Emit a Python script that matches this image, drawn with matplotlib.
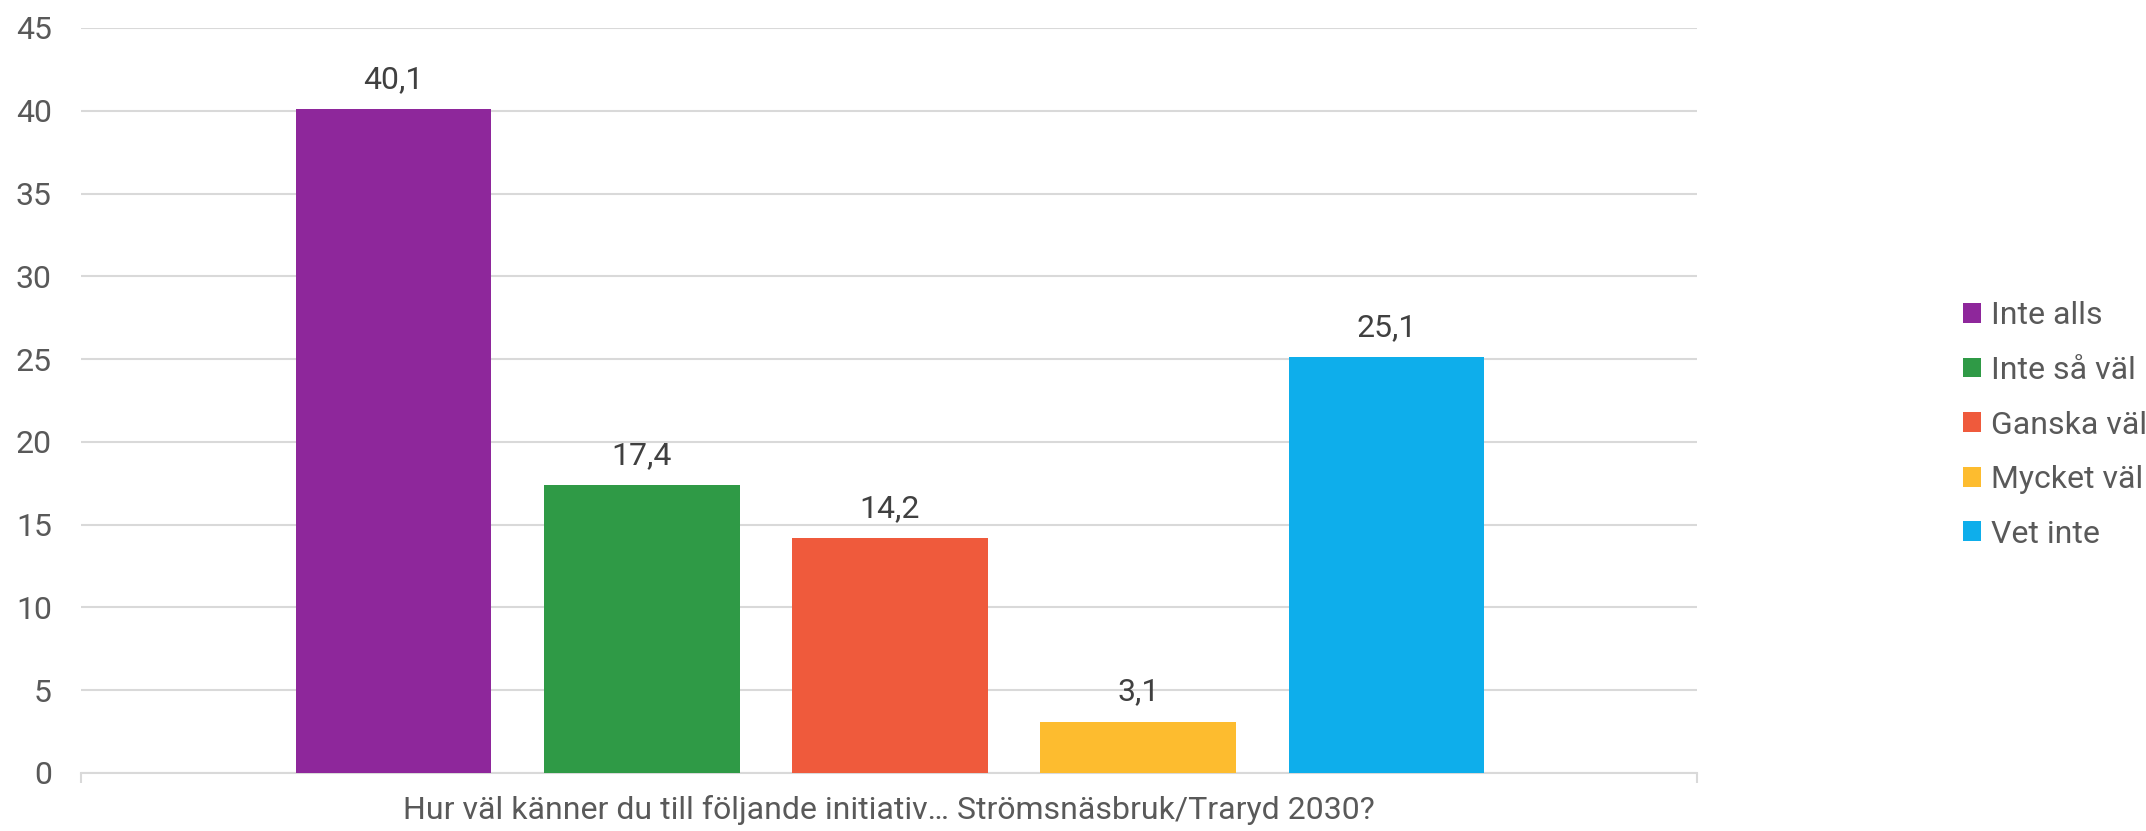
import matplotlib
matplotlib.use('Agg')
from matplotlib import pyplot as plt
from matplotlib.patches import Patch
import matplotlib.transforms as mtransforms

plt.rcParams['font.family'] = ['Roboto', 'DejaVu Sans']

# data
series = ['Inte alls', 'Inte så väl', 'Ganska väl', 'Mycket väl', 'Vet inte']
values = [40.1, 17.4, 14.2, 3.1, 25.1]
colors = ['#8E279B', '#2F9A46', '#EF5A3C', '#FDBC2F', '#0EAEEB']
category = 'Hur väl känner du till följande initiativ… Strömsnäsbruk/Traryd 2030?'
yticks = [0, 5, 10, 15, 20, 25, 30, 35, 40, 45]

W, H = 2146, 831
fs = 23
fig = plt.figure(figsize=(W / 100, H / 100), dpi=100)
ax = fig.add_axes([81 / W, 1 - 773 / H, (1697 - 81) / W, (773 - 28) / H])

bar_w = 0.789
xs = list(range(len(values)))
ax.bar(xs, values, width=bar_w, color=colors, zorder=3)

for x, v in zip(xs, values):
    ax.annotate(f'{v:.1f}'.replace('.', ','), (x, v), xytext=(0, 11),
                textcoords='offset points', ha='center', va='bottom',
                fontsize=fs, color='#404040')

ax.set_ylim(0, 45)
ax.set_xlim(-1.259, 5.251)
ax.set_yticks(yticks)
ax.set_yticklabels([str(t) for t in yticks], fontsize=fs, color='#595959')
ax.tick_params(axis='y', length=0, pad=21)
ax.grid(axis='y', color='#D9D9D9', linewidth=1.5, zorder=0)

ax.set_xticks(ax.get_xlim())
ax.set_xticklabels(['', ''])
ax.tick_params(axis='x', length=7, width=1.5, color='#D9D9D9', direction='out')

for s in ['top', 'right', 'left']:
    ax.spines[s].set_visible(False)
ax.spines['bottom'].set_color('#D9D9D9')
ax.spines['bottom'].set_linewidth(1.5)

trans = mtransforms.blended_transform_factory(ax.transAxes, fig.transFigure)
ax.text(0.5, 1 - 810 / H, category, transform=trans, ha='center', va='center',
        fontsize=fs, color='#595959')

handles = [Patch(facecolor=c, edgecolor='none') for c in colors]
fig.legend(handles, series, loc='center left', bbox_to_anchor=(1963 / W, 1 - 425 / H),
           frameon=False, fontsize=fs, labelcolor='#595959', handlelength=0.57,
           handleheight=0.57, handletextpad=0.3, labelspacing=0.8, borderpad=0,
           borderaxespad=0)

fig.savefig('out.png', dpi=100)
